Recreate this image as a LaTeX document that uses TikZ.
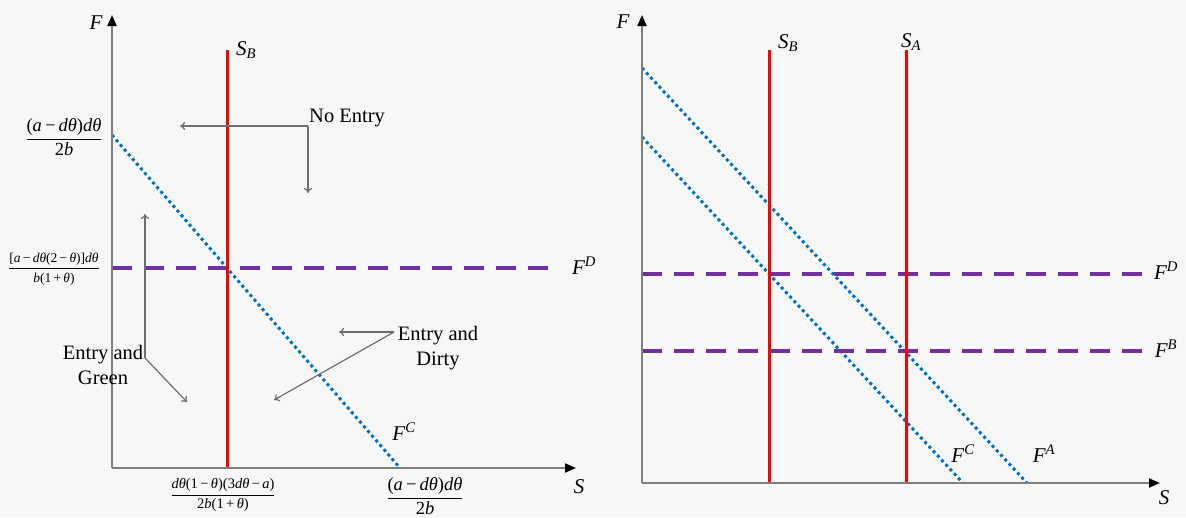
\documentclass[tikz,border=0pt]{standalone}
\usepackage{amsmath}
\usepackage{fontspec}
\setmainfont{Liberation Serif}
\usetikzlibrary{arrows.meta}
\definecolor{bg}{HTML}{F7F7F7}
\definecolor{axisgray}{HTML}{7F7F7F}
\definecolor{annogray}{HTML}{6E6E6E}
\definecolor{sred}{HTML}{FF0000}
\definecolor{fblue}{HTML}{0070C0}
\definecolor{fpurple}{HTML}{7030A0}
\newcommand{\vi}[1]{\textit{#1}}
\newcommand{\tfr}[2]{$\dfrac{\text{#1}}{\text{#2}}$}
\tikzset{
  axisline/.style={draw=axisgray, line width=2pt, -{Triangle[length=11pt,width=9pt,color=black]}},
  sline/.style={draw=sred, line width=3pt},
  fcline/.style={draw=fblue, line width=3pt, dash pattern=on 3pt off 3.2pt},
  fdline/.style={draw=fpurple, line width=3.2pt, dash pattern=on 20pt off 12pt},
  anno/.style={draw=annogray, line width=1.2pt, -{To[length=5pt,width=8pt]}},
  lbl/.style={inner sep=0pt, font=\fontsize{21}{24}\selectfont},
  txt/.style={inner sep=0pt, font=\fontsize{20.5}{25}\selectfont, align=center},
  fbig/.style={inner sep=0pt, font=\fontsize{18.5}{22}\selectfont},
  fsmall/.style={inner sep=0pt, font=\fontsize{13.5}{16}\selectfont},
  fmid/.style={inner sep=0pt, font=\fontsize{14.5}{17}\selectfont},
}
\begin{document}
\begin{tikzpicture}[x=1pt,y=-1pt]
\fill[bg] (0,0) rectangle (1186,517);
\useasboundingbox (0,0) rectangle (1186,517);

% ---------------- left panel ----------------
\coordinate (LO) at (112,468);
\coordinate (LY) at (112,15);
\coordinate (LX) at (576,468);
\coordinate (LSBt) at (227,50);
\coordinate (LSBb) at (227,468);
\coordinate (LFCa) at (112,135);
\coordinate (LFCb) at (400,468);
\coordinate (LFDa) at (112,268);
\coordinate (LFDb) at (560,268);

\draw[fcline] (LFCa) -- (LFCb);
\draw[fdline] (LFDa) -- (LFDb);
\draw[sline] (LSBt) -- (LSBb);
\draw[axisline] (LO) -- (LY);
\draw[axisline] (LO) -- (LX);

\node[lbl] (LF) at (96,23) {\vi{F}};
\node[lbl] (LS) at (579,487) {\vi{S}};
\node[lbl] (LSB) at (246,50) {$\vi{S}_{\vi{B}}$};
\node[lbl] (LFD) at (584,266) {$\vi{F}^{\vi{D}}$};
\node[lbl] (LFC) at (404,432) {$\vi{F}^{\vi{C}}$};

\node[fbig] (LT1) at (64,137) {\tfr{(\vi{a}\,−\,\vi{dθ})\vi{dθ}}{2\vi{b}}};
\node[fsmall] (LT2) at (54,269) {\tfr{[\vi{a}\,−\,\vi{dθ}(2\,−\,\vi{θ})]\vi{dθ}}{\vi{b}(1\,+\,\vi{θ})}};
\node[fmid] (LB1) at (223,495) {\tfr{\vi{dθ}(1\,−\,\vi{θ})(3\vi{dθ}\,−\,\vi{a})}{2\vi{b}(1\,+\,\vi{θ})}};
\node[fbig] (LB2) at (425,496) {\tfr{(\vi{a}\,−\,\vi{dθ})\vi{dθ}}{2\vi{b}}};

% annotations
\node[txt, anchor=base west] (noentry) at (309,122) {No Entry};
\coordinate (ne) at (308,126);
\coordinate (neL) at (180,126);
\coordinate (neD) at (308,193);
\draw[anno] (ne) -- (neL);
\draw[anno] (ne) -- (neD);

\node[txt] (green) at (103,365) {Entry and\\Green};
\coordinate (eg) at (145,358);
\coordinate (egU) at (145,214);
\coordinate (egD) at (187,402);
\draw[anno] (eg) -- (egU);
\draw[anno] (eg) -- (egD);

\node[txt] (dirty) at (438,348) {Entry and\\Dirty};
\coordinate (ed) at (394,332);
\coordinate (edL) at (339,332);
\coordinate (edD) at (274,400);
\draw[anno] (ed) -- (edL);
\draw[anno] (ed) -- (edD);

% ---------------- right panel ----------------
\coordinate (RO) at (642,483);
\coordinate (RY) at (642,15);
\coordinate (RX) at (1160,483);
\coordinate (RSBt) at (769,50);
\coordinate (RSBb) at (769,483);
\coordinate (RSAt) at (906,50);
\coordinate (RSAb) at (906,483);
\coordinate (RFAa) at (642,68);
\coordinate (RFAb) at (1027,483);
\coordinate (RFCa) at (642,137);
\coordinate (RFCb) at (963,483);
\coordinate (RFDa) at (642,274);
\coordinate (RFDb) at (1142,274);
\coordinate (RFBa) at (642,351);
\coordinate (RFBb) at (1142,351);

\draw[fcline] (RFAa) -- (RFAb);
\draw[fcline] (RFCa) -- (RFCb);
\draw[fdline] (RFDa) -- (RFDb);
\draw[fdline] (RFBa) -- (RFBb);
\draw[sline] (RSBt) -- (RSBb);
\draw[sline] (RSAt) -- (RSAb);
\draw[axisline] (RO) -- (RY);
\draw[axisline] (RO) -- (RX);

\node[lbl] (RF) at (623,22) {\vi{F}};
\node[lbl] (RS) at (1164,498) {\vi{S}};
\node[lbl] (RSB) at (788,43) {$\vi{S}_{\vi{B}}$};
\node[lbl] (RSA) at (911,42) {$\vi{S}_{\vi{A}}$};
\node[lbl] (RFD) at (1166,271) {$\vi{F}^{\vi{D}}$};
\node[lbl] (RFB) at (1166,349) {$\vi{F}^{\vi{B}}$};
\node[lbl] (RFC) at (963,454) {$\vi{F}^{\vi{C}}$};
\node[lbl] (RFA) at (1044,454) {$\vi{F}^{\vi{A}}$};
\end{tikzpicture}
\end{document}
